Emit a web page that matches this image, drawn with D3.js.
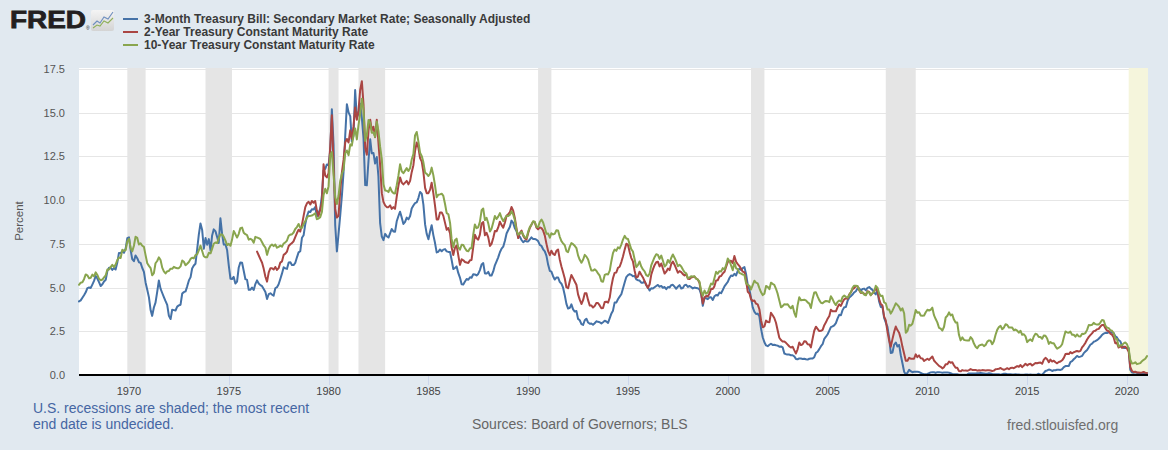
<!DOCTYPE html>
<html><head><meta charset="utf-8">
<script src="https://cdn.jsdelivr.net/npm/d3@7"></script>
<style>
html,body{margin:0;padding:0;background:#e1e9f0;}
svg{display:block;font-family:"Liberation Sans",Arial,sans-serif;}
</style></head><body>
<svg id="c" width="1168" height="450"></svg>
<script>
// ---- data (monthly, percent) ----
const bill3mStart = "1967-07";
const bill3m = [
4.21,4.27,4.42,4.56,4.73,4.97,
5.00,4.98,5.17,5.38,5.66,5.52,5.31,5.09,5.19,5.35,5.45,5.94,
6.13,6.12,6.01,6.11,6.03,6.43,6.98,6.97,7.08,6.99,7.24,7.82,
7.87,7.13,6.63,6.51,6.84,6.68,6.45,6.41,6.12,5.90,5.28,4.87,
4.44,3.70,3.38,3.86,4.14,4.75,5.40,4.94,4.69,4.46,4.22,4.01,
3.38,3.20,3.73,3.71,3.69,3.91,3.98,4.02,4.66,4.74,4.78,5.07,
5.41,5.60,6.09,6.26,6.36,7.19,8.01,8.67,8.29,7.22,7.83,7.45,
7.77,7.12,7.96,8.33,8.23,7.90,7.55,8.96,8.06,7.46,7.47,7.15,
6.26,5.50,5.49,5.61,5.23,5.34,6.13,6.44,6.42,5.96,5.48,5.44,
4.87,4.88,5.00,4.86,5.20,5.41,5.23,5.14,5.08,4.92,4.75,4.35,
4.62,4.67,4.60,4.54,4.96,5.02,5.19,5.49,5.81,6.16,6.10,6.07,
6.44,6.45,6.29,6.29,6.41,6.73,7.01,7.08,7.85,7.99,8.64,9.08,
9.35,9.32,9.48,9.46,9.61,9.06,9.24,9.52,10.26,11.70,11.79,12.04,
12.00,12.86,15.20,13.20,8.58,7.07,8.06,9.13,10.27,11.62,13.73,15.49,
15.02,14.79,13.36,13.69,16.30,14.73,14.95,15.51,14.70,13.54,10.86,10.85,
12.28,13.48,12.68,12.70,12.09,12.47,11.35,8.68,7.92,7.71,8.07,7.94,
7.86,8.11,8.35,8.21,8.19,8.79,9.08,9.34,9.00,8.64,8.76,9.00,
8.90,9.09,9.52,9.69,9.83,9.87,10.12,10.47,10.37,9.74,8.61,8.06,
7.76,8.22,8.57,8.00,7.56,7.01,7.05,7.18,7.08,7.17,7.20,7.07,
7.04,7.03,6.59,6.06,6.12,6.21,5.84,5.57,5.19,5.18,5.35,5.49,
5.45,5.59,5.56,5.76,5.75,5.69,5.78,6.00,6.32,6.40,5.81,5.80,
5.90,5.69,5.69,5.92,6.27,6.50,6.73,7.02,7.23,7.34,7.68,8.09,
8.29,8.48,8.83,8.70,8.40,8.22,7.92,7.91,7.72,7.59,7.67,7.64,
7.64,7.76,7.87,7.78,7.78,7.74,7.66,7.44,7.38,7.19,7.07,6.81,
6.30,5.95,5.91,5.65,5.46,5.57,5.58,5.33,5.22,4.99,4.56,4.07,
3.80,3.84,4.04,3.75,3.63,3.66,3.21,3.13,2.91,2.86,3.13,3.22,
3.00,2.93,2.95,2.87,2.96,3.07,3.04,3.02,2.95,3.02,3.10,3.06,
2.98,3.25,3.50,3.68,4.14,4.14,4.33,4.48,4.62,4.95,5.29,5.60,
5.71,5.77,5.73,5.65,5.67,5.47,5.42,5.40,5.28,5.28,5.36,5.14,
5.00,4.83,4.96,4.95,5.02,5.09,5.15,5.05,5.09,4.99,5.03,4.91,
5.03,5.01,5.14,5.16,5.05,4.93,5.05,5.14,4.95,4.97,5.14,5.16,
5.04,5.09,5.03,4.95,5.00,4.98,4.96,4.90,4.61,3.96,4.41,4.39,
4.34,4.44,4.44,4.29,4.50,4.57,4.55,4.72,4.68,4.86,5.07,5.20,
5.32,5.55,5.69,5.66,5.79,5.69,5.96,6.09,6.00,6.11,6.17,5.77,
5.15,4.88,4.42,3.87,3.62,3.49,3.51,3.36,2.64,2.16,1.87,1.69,
1.65,1.73,1.79,1.72,1.73,1.70,1.68,1.62,1.63,1.58,1.23,1.19,
1.17,1.17,1.13,1.13,1.07,0.92,0.90,0.95,0.94,0.92,0.93,0.90,
0.88,0.93,0.94,0.94,1.02,1.27,1.33,1.48,1.65,1.76,2.07,2.19,
2.33,2.54,2.74,2.78,2.84,2.97,3.22,3.44,3.42,3.71,3.88,3.89,
4.24,4.43,4.51,4.60,4.72,4.79,4.95,4.96,4.81,4.92,4.94,4.85,
4.98,5.03,4.94,4.87,4.73,4.61,4.82,4.20,3.89,3.90,3.27,3.00,
2.75,2.12,1.26,1.29,1.73,1.86,1.63,1.72,1.13,0.67,0.19,0.03,
0.13,0.30,0.22,0.16,0.18,0.18,0.18,0.17,0.12,0.07,0.05,0.05,
0.06,0.11,0.15,0.16,0.16,0.12,0.16,0.16,0.15,0.13,0.14,0.14,
0.15,0.13,0.10,0.06,0.04,0.04,0.04,0.02,0.01,0.02,0.01,0.01,
0.03,0.09,0.08,0.08,0.09,0.09,0.10,0.10,0.11,0.10,0.09,0.07,
0.07,0.10,0.09,0.06,0.04,0.05,0.04,0.04,0.02,0.05,0.07,0.07,
0.04,0.05,0.05,0.03,0.03,0.04,0.03,0.03,0.02,0.02,0.02,0.03,
0.03,0.02,0.03,0.02,0.02,0.02,0.03,0.07,0.02,0.02,0.12,0.23,
0.26,0.31,0.29,0.23,0.27,0.27,0.30,0.30,0.29,0.33,0.45,0.51,
0.51,0.52,0.74,0.79,0.90,0.99,1.09,1.03,1.05,1.09,1.25,1.34,
1.43,1.59,1.73,1.79,1.90,1.94,1.99,2.07,2.17,2.29,2.37,2.41,
2.40,2.44,2.45,2.43,2.40,2.22,2.15,1.99,1.93,1.68,1.55,1.55,
1.55,1.54,0.30,0.14,0.13,0.16,0.13,0.10,0.11,0.10,0.09,0.09,
0.08];

const note2yStart = "1976-06";
const note2y = [
7.06,6.85,6.63,6.42,6.07,5.62,5.34,
5.87,6.11,6.11,6.03,6.18,6.01,6.11,6.43,6.50,6.87,6.94,7.06,
7.38,7.48,7.54,7.65,7.89,8.12,8.31,8.20,8.60,9.10,9.60,9.82,
9.90,9.75,9.95,9.85,9.95,9.40,9.10,9.45,9.90,12.05,11.40,11.30,
11.55,13.10,14.85,12.00,9.50,9.00,9.10,10.50,11.60,12.30,13.30,13.50,
13.30,14.00,13.50,14.20,15.30,14.60,15.10,16.30,16.80,15.50,13.00,12.60,
14.00,14.60,14.00,14.20,13.60,14.60,13.30,12.00,10.40,9.90,9.70,9.60,
9.60,9.70,9.50,9.60,9.50,10.20,10.80,11.30,11.00,10.90,11.00,11.10,
10.90,11.10,11.60,12.00,12.80,13.30,13.00,12.40,12.20,11.60,10.70,10.40,
10.40,10.60,11.00,10.40,9.70,8.90,8.90,9.30,9.30,9.10,8.70,8.30,
8.41,8.10,7.30,6.86,7.27,7.41,6.86,6.30,6.62,6.56,6.46,6.43,
6.41,6.56,6.58,7.32,8.02,7.82,7.74,8.03,8.67,8.75,7.99,8.13,
7.87,7.38,7.50,7.83,8.24,8.22,8.44,8.77,8.57,8.43,8.72,9.11,
9.20,9.32,9.61,9.40,8.98,8.37,7.83,8.13,8.26,7.97,7.81,7.75,
8.12,8.42,8.60,8.77,8.74,8.43,8.33,8.44,8.40,8.26,7.97,7.50,
7.08,6.85,7.11,6.93,6.86,7.10,7.18,6.61,6.21,5.88,5.52,5.02,
4.96,5.38,5.72,5.54,5.35,5.16,4.61,4.31,4.06,4.28,4.68,4.67,
4.28,3.97,3.98,3.86,3.94,4.12,4.12,3.98,3.82,3.83,4.17,4.19,
4.14,4.43,5.04,5.53,5.84,5.86,6.13,6.19,6.46,6.78,7.17,7.51,
7.44,7.02,6.70,6.50,5.98,5.57,5.63,5.91,5.73,5.58,5.36,5.16,
4.98,5.19,5.73,6.04,6.28,6.45,6.48,6.21,6.38,6.09,5.80,5.91,
6.09,6.00,6.34,6.49,6.31,6.08,5.85,5.94,5.88,5.77,5.69,5.78,
5.51,5.49,5.58,5.60,5.63,5.52,5.46,5.27,4.67,4.09,4.44,4.52,
4.49,4.67,4.93,4.92,5.07,5.41,5.42,5.63,5.66,5.81,5.90,6.18,
6.47,6.52,6.53,6.40,6.81,6.48,6.34,6.23,6.08,5.91,5.88,5.39,
4.76,4.66,4.34,4.23,4.26,4.08,4.04,3.76,3.12,2.73,2.78,3.11,
3.03,3.02,3.56,3.42,3.26,2.99,2.56,2.13,2.00,1.91,1.92,1.84,
1.74,1.63,1.57,1.62,1.42,1.23,1.47,1.86,1.71,1.75,1.93,1.91,
1.76,1.74,1.58,2.07,2.53,2.76,2.64,2.51,2.53,2.58,2.85,3.01,
3.22,3.38,3.73,3.65,3.64,3.64,3.87,4.04,3.95,4.17,4.33,4.39,
4.36,4.61,4.72,4.90,4.97,5.09,5.07,4.85,4.69,4.72,4.64,4.58,
4.79,4.75,4.57,4.67,4.77,4.96,4.82,4.34,4.06,3.97,3.34,3.12,
2.48,1.97,1.62,2.05,2.45,2.77,2.57,2.42,2.08,1.61,1.21,0.82,
0.81,0.98,0.93,0.93,0.93,1.18,1.02,1.12,0.96,0.95,0.80,0.87,
0.93,0.86,0.96,1.06,0.83,0.72,0.62,0.52,0.47,0.38,0.45,0.62,
0.61,0.77,0.70,0.73,0.56,0.41,0.41,0.23,0.21,0.28,0.25,0.26,
0.24,0.28,0.34,0.29,0.29,0.29,0.25,0.27,0.26,0.28,0.27,0.26,
0.27,0.27,0.26,0.23,0.25,0.33,0.34,0.36,0.40,0.34,0.30,0.34,
0.39,0.33,0.40,0.42,0.39,0.45,0.51,0.47,0.57,0.45,0.54,0.64,
0.55,0.62,0.64,0.54,0.61,0.69,0.67,0.70,0.71,0.64,0.88,0.98,
0.90,0.73,0.88,0.77,0.82,0.73,0.67,0.74,0.77,0.84,0.98,1.20,
1.21,1.20,1.31,1.24,1.30,1.34,1.37,1.34,1.38,1.58,1.70,1.84,
2.03,2.18,2.28,2.38,2.51,2.53,2.61,2.64,2.77,2.86,2.86,2.68,
2.54,2.50,2.37,2.31,2.16,1.81,1.84,1.57,1.65,1.55,1.61,1.61,
1.52,1.33,0.45,0.23,0.17,0.19,0.14,0.14,0.13,0.14,0.17,0.13,
0.12];

const note10yStart = "1967-07";
const note10y = [
5.16,5.28,5.30,5.48,5.75,5.70,
5.53,5.56,5.74,5.64,5.87,5.72,5.50,5.42,5.46,5.58,5.70,6.03,
6.04,6.19,6.30,6.17,6.32,6.57,6.72,6.69,7.16,7.10,7.14,7.65,
7.79,7.24,7.07,7.39,7.91,7.84,7.46,7.53,7.39,7.33,6.84,6.39,
6.24,6.11,5.70,5.83,6.39,6.52,6.73,6.58,6.14,5.93,5.81,5.93,
5.95,6.08,6.07,6.19,6.13,6.11,6.11,6.21,6.55,6.48,6.28,6.36,
6.46,6.64,6.71,6.67,6.85,6.90,7.13,7.40,7.09,6.79,6.73,6.74,
6.99,6.96,7.21,7.51,7.58,7.54,7.81,8.04,8.04,7.90,7.68,7.43,
7.50,7.39,7.73,8.23,8.06,7.86,8.06,8.40,8.43,8.14,8.05,8.00,
7.74,7.79,7.73,7.56,7.90,7.86,7.83,7.77,7.59,7.41,7.29,6.87,
7.21,7.39,7.46,7.37,7.46,7.28,7.33,7.40,7.34,7.52,7.58,7.69,
7.96,8.03,8.04,8.15,8.35,8.46,8.64,8.41,8.42,8.64,8.81,9.01,
9.10,9.10,9.12,9.18,9.25,8.91,8.95,9.03,9.33,10.30,10.65,10.39,
10.80,12.60,12.75,11.47,10.18,9.78,10.25,11.10,11.51,11.75,12.68,12.84,
12.57,13.19,13.12,13.68,14.10,13.47,14.28,14.94,15.80,15.15,13.39,13.72,
14.59,14.43,13.86,13.87,13.62,14.50,13.95,13.06,12.34,10.91,10.55,10.54,
10.46,10.72,10.51,10.40,10.38,10.85,11.38,12.05,11.65,11.54,11.69,11.83,
11.67,11.84,12.32,12.63,13.70,13.90,13.36,12.72,12.52,12.16,11.57,11.50,
11.38,11.51,11.86,11.43,10.85,10.16,10.31,10.33,10.37,10.24,9.78,9.26,
9.19,8.70,7.78,7.30,7.71,7.80,7.30,7.17,7.45,7.43,7.25,7.11,
7.08,7.25,7.25,8.02,8.61,8.40,8.45,8.76,9.42,9.52,8.86,8.99,
8.67,8.21,8.37,8.72,9.09,8.92,9.06,9.26,8.98,8.80,8.96,9.11,
9.09,9.17,9.36,9.18,8.86,8.28,8.02,8.11,8.19,8.01,7.87,7.84,
8.21,8.47,8.59,8.79,8.76,8.48,8.47,8.75,8.89,8.72,8.39,8.08,
8.09,7.85,8.11,8.04,8.07,8.28,8.27,7.90,7.65,7.53,7.42,7.09,
7.03,7.34,7.54,7.48,7.39,7.26,6.84,6.59,6.42,6.59,6.87,6.77,
6.60,6.26,5.98,5.97,6.04,5.96,5.81,5.68,5.36,5.33,5.72,5.77,
5.75,5.97,6.48,6.97,7.18,7.10,7.30,7.24,7.46,7.74,7.96,7.81,
7.78,7.47,7.20,7.06,6.63,6.17,6.28,6.49,6.20,6.04,5.93,5.71,
5.65,5.81,6.27,6.51,6.74,6.91,6.87,6.64,6.83,6.53,6.20,6.30,
6.58,6.42,6.69,6.89,6.71,6.49,6.22,6.30,6.21,6.03,5.88,5.81,
5.54,5.57,5.65,5.64,5.65,5.50,5.46,5.34,4.81,4.53,4.83,4.65,
4.72,5.00,5.23,5.18,5.54,5.90,5.79,5.94,5.92,6.11,6.03,6.28,
6.66,6.52,6.26,5.99,6.44,6.10,6.05,5.83,5.80,5.74,5.72,5.24,
5.16,5.10,4.89,5.14,5.39,5.28,5.24,4.97,4.73,4.57,4.65,5.09,
5.04,4.91,5.28,5.21,5.16,4.93,4.65,4.26,3.87,3.94,4.05,4.03,
4.05,3.90,3.81,3.96,3.57,3.33,3.98,4.45,4.27,4.29,4.30,4.27,
4.15,4.08,3.83,4.35,4.72,4.73,4.50,4.28,4.13,4.10,4.19,4.23,
4.22,4.17,4.50,4.34,4.14,4.00,4.18,4.26,4.20,4.46,4.54,4.47,
4.42,4.57,4.72,4.99,5.11,5.11,5.09,4.88,4.72,4.73,4.60,4.56,
4.76,4.72,4.56,4.69,4.75,5.10,5.00,4.67,4.52,4.53,4.15,4.10,
3.74,3.74,3.51,3.68,3.88,4.10,4.01,3.89,3.69,3.81,3.53,2.42,
2.52,2.87,2.82,2.93,3.29,3.72,3.56,3.59,3.40,3.39,3.40,3.59,
3.73,3.69,3.73,3.85,3.42,3.20,3.01,2.70,2.65,2.54,2.76,3.29,
3.39,3.58,3.41,3.46,3.17,3.00,3.00,2.30,1.98,2.15,2.01,1.98,
1.97,1.97,2.17,2.05,1.80,1.62,1.53,1.68,1.72,1.75,1.65,1.72,
1.91,1.98,1.96,1.76,1.93,2.30,2.58,2.74,2.81,2.62,2.72,2.90,
2.86,2.71,2.72,2.71,2.56,2.60,2.54,2.42,2.53,2.30,2.33,2.21,
1.88,1.98,2.04,1.94,2.20,2.36,2.32,2.17,2.17,2.07,2.26,2.24,
2.09,1.78,1.89,1.81,1.81,1.64,1.50,1.56,1.63,1.76,2.14,2.49,
2.43,2.42,2.48,2.30,2.30,2.19,2.32,2.21,2.20,2.36,2.35,2.40,
2.58,2.86,2.84,2.87,2.98,2.91,2.89,2.89,3.00,3.15,3.12,2.83,
2.71,2.68,2.57,2.53,2.40,2.07,2.06,1.63,1.70,1.71,1.81,1.86,
1.76,1.50,0.87,0.66,0.67,0.73,0.62,0.65,0.68,0.79,0.87,0.93,
1.08];

const seriesNames = [
  "3-Month Treasury Bill: Secondary Market Rate; Seasonally Adjusted",
  "2-Year Treasury Constant Maturity Rate",
  "10-Year Treasury Constant Maturity Rate"
];
const recessions = [
  ["1969-12","1970-11"],["1973-11","1975-03"],["1980-01","1980-07"],
  ["1981-07","1982-11"],["1990-07","1991-03"],["2001-03","2001-11"],
  ["2007-12","2009-06"]
];
const openRecession = ["2020-02","2021-01"];
const xDomain = ["1967-07","2021-01"];
const yTicks = [0,2.5,5,7.5,10,12.5,15,17.5];
const xTickYears = [1970,1975,1980,1985,1990,1995,2000,2005,2010,2015,2020];

// ---- styles ----
const colors = ["#4572a7","#aa4643","#89a54e"];
const W = 1168, H = 450;
const plot = {l:79, r:1147, t:68, b:375};

const parse = d3.utcParse("%Y-%m");
function monthly(start, vals){
  const s = parse(start);
  return vals.map((v,i)=>({date:d3.utcMonth.offset(s,i), value:v}));
}
const series = [monthly(bill3mStart,bill3m), monthly(note2yStart,note2y), monthly(note10yStart,note10y)];

const svg = d3.select("#c");
svg.append("rect").attr("width",W).attr("height",H).attr("fill","#e1e9f0");

const x = d3.scaleUtc().domain(xDomain.map(parse)).range([plot.l, plot.r]);
const y = d3.scaleLinear().domain([0,17.5]).range([plot.b, 69]);

svg.append("rect").attr("x",plot.l).attr("y",plot.t).attr("width",plot.r-plot.l+1).attr("height",plot.b-plot.t).attr("fill","#ffffff");

// grid
svg.append("g").selectAll("line").data(yTicks.filter(d=>d>0)).join("line")
  .attr("x1",plot.l).attr("x2",plot.r+1)
  .attr("y1",d=>Math.round(y(d))+0.5).attr("y2",d=>Math.round(y(d))+0.5)
  .attr("stroke","#e6e6e6").attr("stroke-width",1);

// recession bands
svg.append("g").selectAll("rect").data(recessions).join("rect")
  .attr("x",d=>x(parse(d[0]))).attr("width",d=>x(parse(d[1]))-x(parse(d[0])))
  .attr("y",plot.t).attr("height",plot.b-plot.t).attr("fill","#e5e5e5");
svg.append("rect")
  .attr("x",x(parse(openRecession[0]))).attr("width",plot.r+1-x(parse(openRecession[0])))
  .attr("y",plot.t).attr("height",plot.b-plot.t).attr("fill","#f5f5dc");

// lines
const line = d3.line().x(d=>x(d.date)).y(d=>y(d.value));
svg.append("g").selectAll("path").data(series).join("path")
  .attr("d",line).attr("fill","none")
  .attr("stroke",(d,i)=>colors[i]).attr("stroke-width",2)
  .attr("stroke-linejoin","round").attr("stroke-linecap","round");

// x axis
const xTicks = xTickYears.map(yr=>new Date(Date.UTC(yr,0,1)));
const xa = svg.append("g");
xa.selectAll("line.t").data(xTicks).join("line").attr("class","t")
  .attr("x1",d=>Math.round(x(d))+0.5).attr("x2",d=>Math.round(x(d))+0.5)
  .attr("y1",plot.b).attr("y2",plot.b+10).attr("stroke","#ccd6eb");
xa.append("line").attr("x1",plot.l).attr("x2",plot.r+1).attr("y1",plot.b).attr("y2",plot.b)
  .attr("stroke","#000").attr("stroke-width",2);
xa.selectAll("text").data(xTicks).join("text")
  .attr("x",d=>x(d)).attr("y",395).attr("text-anchor","middle")
  .attr("font-size",11).attr("fill","#444").text(d=>d3.utcFormat("%Y")(d));

// y axis labels
svg.append("g").selectAll("text").data(yTicks).join("text")
  .attr("x",65).attr("y",d=>y(d)+4).attr("text-anchor","end")
  .attr("font-size",11).attr("fill","#555").text(d=>d3.format(".1f")(d));
svg.append("text").attr("transform","translate(23,221) rotate(-90)")
  .attr("text-anchor","middle").attr("font-size",11.5).attr("fill","#555").text("Percent");

// legend
const lg = svg.append("g");
seriesNames.forEach((n,i)=>{
  const cy = 19 + i*13;
  lg.append("line").attr("x1",123).attr("x2",138).attr("y1",cy).attr("y2",cy)
    .attr("stroke",colors[i]).attr("stroke-width",2);
  lg.append("text").attr("x",144).attr("y",cy+4).attr("font-size",12)
    .attr("font-weight","bold").attr("fill","#3a3a3a").text(n);
});

// FRED logo
const logo = svg.append("g");
logo.append("text").attr("x",10).attr("y",28).attr("font-size",24).attr("font-weight","bold")
  .attr("fill","#231f20").attr("stroke","#231f20").attr("stroke-width",0.8)
  .attr("textLength",76).attr("lengthAdjust","spacingAndGlyphs").text("FRED");
logo.append("text").attr("x",86).attr("y",30).attr("font-size",5).attr("fill","#231f20").text("®");
const grad = svg.append("defs").append("linearGradient").attr("id","lg1").attr("x1",0).attr("y1",0).attr("x2",0).attr("y2",1);
grad.append("stop").attr("offset","0%").attr("stop-color","#f4f4f4");
grad.append("stop").attr("offset","100%").attr("stop-color","#d4d4d4");
logo.append("rect").attr("x",91).attr("y",10).attr("width",23).attr("height",21).attr("rx",2).attr("fill","url(#lg1)");
logo.append("path").attr("d","M93,25 L97,21 L100,23 L104,17 L108,19 L113,12").attr("fill","none").attr("stroke","#6f8fbf").attr("stroke-width",1.1);
logo.append("path").attr("d","M93,28 L97,25 L100,26 L104,21 L108,23 L113,18").attr("fill","none").attr("stroke","#8fb05a").attr("stroke-width",1.1);

// footer
svg.append("text").attr("x",33).attr("y",413).attr("font-size",14).attr("fill","#4566a3")
  .text("U.S. recessions are shaded; the most recent");
svg.append("text").attr("x",33).attr("y",429).attr("font-size",14).attr("fill","#4566a3")
  .text("end date is undecided.");
svg.append("text").attr("x",472).attr("y",429).attr("font-size",14).attr("fill","#666")
  .text("Sources: Board of Governors; BLS");
svg.append("text").attr("x",1007).attr("y",430).attr("font-size",14).attr("fill","#6f6f6f")
  .text("fred.stlouisfed.org");
</script>
</body></html>
